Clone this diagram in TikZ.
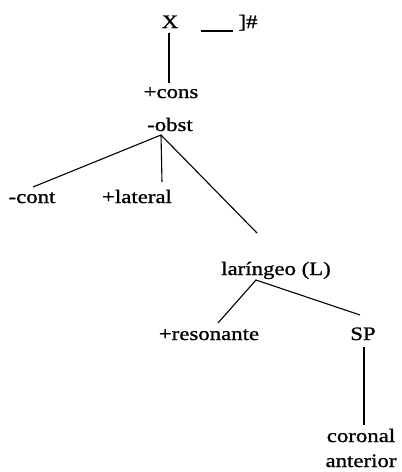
\documentclass[tikz,border=0pt]{standalone}
\usepackage{fontspec}
\setmainfont{Liberation Serif}[FakeStretch=1.2,FakeBold=1]
\begin{document}
\begin{tikzpicture}[x=1pt,y=-1pt,
  lbl/.style={anchor=base,inner sep=0pt,font=\fontsize{19}{21}\selectfont},
  edge/.style={line width=1.1pt}]
\useasboundingbox (0,0) rectangle (402,472);
% labels
\node[lbl] (X) at (170,28) {X};
\node[lbl] (hash) at (248,28) {]\#};
\node[lbl] (cons) at (171,98) {+cons};
\node[lbl] (obst) at (170,131) {-obst};
\node[lbl] (cont) at (32,203) {-cont};
\node[lbl] (lat) at (137,203) {+lateral};
\node[lbl] (lar) at (276,275) {laríngeo (L)};
\node[lbl] (res) at (209,340) {+resonante};
\node[lbl] (sp) at (363,340) {SP};
\node[lbl] (cor) at (361,442) {coronal};
\node[lbl] (ant) at (361,467) {anterior};
% connector points
\coordinate (blankL) at (201,31);
\coordinate (blankR) at (233,31);
\coordinate (Xbot) at (169,33);
\coordinate (constop) at (169,83);
\coordinate (obstapex) at (161,135);
\coordinate (conttop) at (33,187);
\coordinate (lattop) at (162,182);
\coordinate (lartop) at (257,233);
\coordinate (larapex) at (256,280);
\coordinate (restop) at (218,323);
\coordinate (sptop) at (360,315);
\coordinate (spbot) at (364,347);
\coordinate (cortop) at (364,425);
% connectors
\draw[edge] (blankL) -- (blankR);
\draw[edge] (Xbot) -- (constop);
\draw[edge] (conttop) -- (obstapex) -- (lartop);
\draw[edge] (obstapex) -- (lattop);
\draw[edge] (restop) -- (larapex) -- (sptop);
\draw[edge] (spbot) -- (cortop);
\end{tikzpicture}
\end{document}
